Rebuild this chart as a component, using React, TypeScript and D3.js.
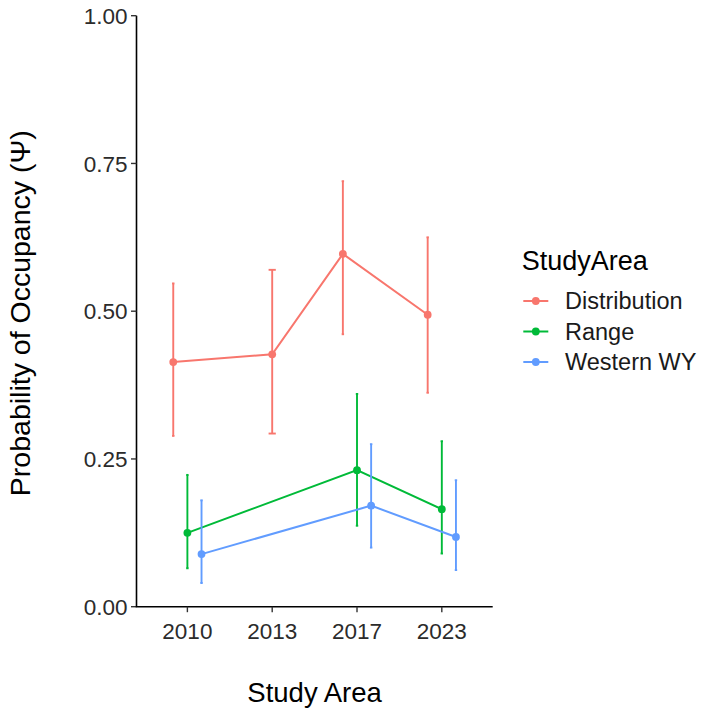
import React from "react";
import * as d3 from "d3";

// Survey years (discrete x categories)
const years = ["2010", "2013", "2017", "2023"];

// Series, in legend order
const seriesNames = ["Distribution", "Range", "Western WY"];
const seriesColors = ["#F8766D", "#00BA38", "#619CFF"];

// Distribution estimates with confidence limits
const distYears = ["2010", "2013", "2017", "2023"];
const distEst = [0.414, 0.427, 0.597, 0.494];
const distLow = [0.289, 0.293, 0.461, 0.362];
const distHigh = [0.547, 0.57, 0.72, 0.625];

// Range estimates with confidence limits
const rangeYears = ["2010", "2017", "2023"];
const rangeEst = [0.125, 0.231, 0.165];
const rangeLow = [0.065, 0.137, 0.09];
const rangeHigh = [0.223, 0.36, 0.28];

// Western WY estimates with confidence limits
const wyYears = ["2010", "2017", "2023"];
const wyEst = [0.089, 0.171, 0.118];
const wyLow = [0.04, 0.1, 0.062];
const wyHigh = [0.18, 0.275, 0.214];

const yTicks = [0, 0.25, 0.5, 0.75, 1.0];

const W = 704;
const H = 712;
const panel = { left: 136.5, right: 492.7, top: 15.7, bottom: 606.7 };
const FONT = "'Liberation Sans', Arial, sans-serif";

type Row = { series: string; year: string; est: number; low: number; high: number };

function buildRows(name: string, ys: string[], est: number[], low: number[], high: number[]): Row[] {
  return ys.map((y, i) => ({ series: name, year: y, est: est[i], low: low[i], high: high[i] }));
}

const rows: Row[] = [
  ...buildRows("Distribution", distYears, distEst, distLow, distHigh),
  ...buildRows("Range", rangeYears, rangeEst, rangeLow, rangeHigh),
  ...buildRows("Western WY", wyYears, wyEst, wyLow, wyHigh),
];

export default function App() {
  const x = d3
    .scalePoint<string>()
    .domain(years)
    .range([panel.left, panel.right])
    .padding(0.6);
  const step = x.step();
  const y = d3.scaleLinear().domain([0, 1]).range([panel.bottom, panel.top]);
  const color = d3.scaleOrdinal<string, string>().domain(seriesNames).range(seriesColors);

  // dodge groups sharing the same year
  const dodgeWidth = 0.5;
  const capWidth = 0.085;
  const xPos = (r: Row) => {
    const present = seriesNames.filter((s) => rows.some((q) => q.year === r.year && q.series === s));
    const n = present.length;
    const i = present.indexOf(r.series);
    const off = -dodgeWidth / 2 + ((i + 0.5) * dodgeWidth) / n;
    return { cx: (x(r.year) as number) + off * step, cap: (capWidth / n) * step };
  };

  const line = d3
    .line<Row>()
    .x((r) => xPos(r).cx)
    .y((r) => y(r.est));

  const legendX = 521.7;
  const legendRows = [301, 331.5, 362];

  return (
    <svg
      width={W}
      height={H}
      style={{ position: "absolute", left: 0, top: 0, background: "#fff", fontFamily: FONT }}
    >
      <rect width={W} height={H} fill="#fff" />

      {/* y axis */}
      <line x1={panel.left} x2={panel.left} y1={panel.top} y2={panel.bottom} stroke="#000" strokeWidth={1.6} />
      {yTicks.map((t) => (
        <g key={t}>
          <line x1={panel.left - 5.5} x2={panel.left} y1={y(t)} y2={y(t)} stroke="#333" strokeWidth={1.4} />
          <text x={127.5} y={y(t)} dy="0.36em" textAnchor="end" fontSize={22.5} fill="#2b2b2b">
            {d3.format(".2f")(t)}
          </text>
        </g>
      ))}

      {/* x axis */}
      <line x1={panel.left - 0.8} x2={panel.right} y1={panel.bottom} y2={panel.bottom} stroke="#000" strokeWidth={1.6} />
      {years.map((yr) => (
        <g key={yr}>
          <line x1={x(yr)} x2={x(yr)} y1={panel.bottom} y2={panel.bottom + 5.5} stroke="#333" strokeWidth={1.4} />
          <text x={x(yr)} y={639.3} textAnchor="middle" fontSize={22.5} fill="#2b2b2b">
            {yr}
          </text>
        </g>
      ))}

      {/* axis titles */}
      <text x={(panel.left + panel.right) / 2} y={701.5} textAnchor="middle" fontSize={27.5} fill="#000">
        Study Area
      </text>
      <text
        transform={`translate(30, ${(panel.top + panel.bottom) / 2 + 2}) rotate(-90)`}
        textAnchor="middle"
        fontSize={28.5}
        fill="#000"
      >
        Probability of Occupancy (Ψ)
      </text>

      {/* series */}
      {seriesNames.map((s) => {
        const data = rows.filter((r) => r.series === s);
        const c = color(s);
        return (
          <g key={s}>
            {data.map((r) => {
              const { cx, cap } = xPos(r);
              return (
                <g key={r.year} stroke={c} strokeWidth={1.9}>
                  <line x1={cx} x2={cx} y1={y(r.low)} y2={y(r.high)} />
                  <line x1={cx - cap / 2} x2={cx + cap / 2} y1={y(r.low)} y2={y(r.low)} />
                  <line x1={cx - cap / 2} x2={cx + cap / 2} y1={y(r.high)} y2={y(r.high)} />
                </g>
              );
            })}
            <path d={line(data) || ""} fill="none" stroke={c} strokeWidth={2} />
            {data.map((r) => (
              <circle key={r.year} cx={xPos(r).cx} cy={y(r.est)} r={3.9} fill={c} />
            ))}
          </g>
        );
      })}

      {/* legend */}
      <text x={legendX} y={270} fontSize={27} fill="#000">
        StudyArea
      </text>
      {seriesNames.map((s, i) => (
        <g key={s}>
          <line x1={523.3} x2={548.3} y1={legendRows[i]} y2={legendRows[i]} stroke={color(s)} strokeWidth={2} />
          <circle cx={535.8} cy={legendRows[i]} r={3.9} fill={color(s)} />
          <text x={565} y={legendRows[i]} dy="0.36em" fontSize={23.5} fill="#1a1a1a">
            {s}
          </text>
        </g>
      ))}
    </svg>
  );
}
